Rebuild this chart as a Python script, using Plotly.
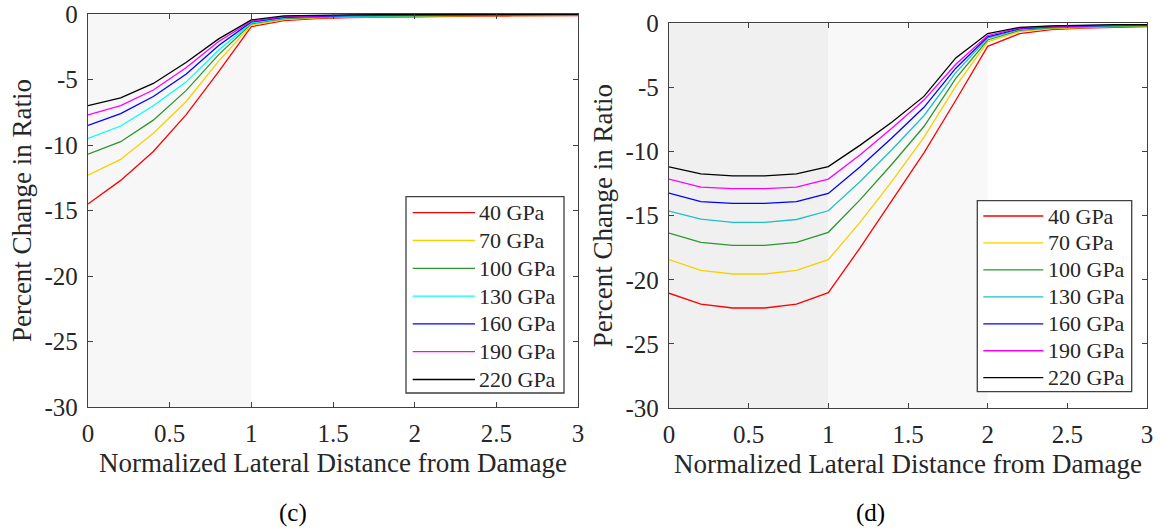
import plotly.graph_objects as go

W, H = 1161, 531

x_vals = [0.0, 0.2, 0.4, 0.6, 0.8, 1.0, 1.2, 1.4, 1.6, 1.8, 2.0, 2.2, 2.4, 2.6, 2.8, 3.0]
series_names = ["40 GPa", "70 GPa", "100 GPa", "130 GPa", "160 GPa", "190 GPa", "220 GPa"]
colors_c = ["#FF0000", "#F7D000", "#2E962E", "#00FFFF", "#0000FF", "#FF00FF", "#000000"]
colors_d = ["#FF0000", "#F7D000", "#2E962E", "#1FC1C1", "#0000FF", "#FF00FF", "#000000"]

# Panel (c)
c_40 = [-14.5, -12.7, -10.5, -7.7, -4.4, -0.97, -0.5, -0.35, -0.28, -0.24, -0.2, -0.18, -0.16, -0.15, -0.14, -0.13]
c_70 = [-12.3, -11.1, -9.1, -6.7, -3.6, -0.85, -0.42, -0.3, -0.24, -0.2, -0.17, -0.15, -0.13, -0.12, -0.11, -0.1]
c_100 = [-10.7, -9.75, -8.1, -5.85, -3.1, -0.75, -0.36, -0.25, -0.2, -0.16, -0.14, -0.12, -0.1, -0.09, -0.08, -0.08]
c_130 = [-9.5, -8.55, -7.0, -5.2, -2.75, -0.68, -0.3, -0.2, -0.16, -0.13, -0.11, -0.09, -0.08, -0.07, -0.06, -0.06]
c_160 = [-8.5, -7.6, -6.3, -4.6, -2.4, -0.6, -0.25, -0.16, -0.12, -0.1, -0.08, -0.07, -0.06, -0.05, -0.05, -0.04]
c_190 = [-7.7, -7.0, -5.8, -4.1, -2.1, -0.55, -0.2, -0.12, -0.09, -0.07, -0.06, -0.05, -0.04, -0.04, -0.03, -0.03]
c_220 = [-7.0, -6.4, -5.3, -3.7, -1.9, -0.45, -0.15, -0.08, -0.06, -0.05, -0.04, -0.03, -0.03, -0.02, -0.02, -0.02]

# Panel (d)
d_40 = [-21.05, -21.9, -22.2, -22.2, -21.9, -21.0, -17.5, -13.8, -10.1, -6.0, -1.8, -0.8, -0.5, -0.38, -0.3, -0.26]
d_70 = [-18.43, -19.27, -19.55, -19.55, -19.27, -18.43, -15.5, -12.3, -8.9, -4.9, -1.45, -0.65, -0.42, -0.32, -0.26, -0.22]
d_100 = [-16.36, -17.09, -17.32, -17.32, -17.09, -16.3, -13.75, -10.97, -8.05, -4.3, -1.3, -0.55, -0.36, -0.27, -0.22, -0.19]
d_130 = [-14.64, -15.27, -15.53, -15.53, -15.3, -14.62, -12.33, -9.84, -7.21, -3.85, -1.15, -0.48, -0.31, -0.23, -0.19, -0.16]
d_160 = [-13.24, -13.9, -14.05, -14.05, -13.9, -13.27, -11.19, -8.93, -6.55, -3.5, -1.05, -0.42, -0.27, -0.2, -0.16, -0.14]
d_190 = [-12.15, -12.77, -12.9, -12.9, -12.77, -12.15, -10.25, -8.17, -5.99, -3.19, -0.95, -0.37, -0.23, -0.17, -0.14, -0.12]
d_220 = [-11.2, -11.74, -11.9, -11.9, -11.74, -11.17, -9.5, -7.7, -5.7, -2.7, -0.8, -0.32, -0.2, -0.14, -0.11, -0.1]

series_c = [c_40, c_70, c_100, c_130, c_160, c_190, c_220]
series_d = [d_40, d_70, d_100, d_130, d_160, d_190, d_220]

x_tickvals = [0, 0.5, 1, 1.5, 2, 2.5, 3]
x_ticktext = ["0", "0.5", "1", "1.5", "2", "2.5", "3"]
y_tickvals = [-30, -25, -20, -15, -10, -5, 0]
y_ticktext = ["-30", "-25", "-20", "-15", "-10", "-5", "0"]

x_title = "Normalized Lateral Distance from Damage"
y_title = "Percent Change in Ratio"
captions = ["(c)", "(d)"]

FONT = "Liberation Serif"
TXT = "#262626"
AX = "#404040"


def px(xp):
    return xp / W


def py(yp):
    return 1 - yp / H


fig = go.Figure()

for vals, name, col in zip(series_c, series_names, colors_c):
    fig.add_trace(go.Scatter(x=x_vals, y=vals, mode="lines", name=name,
                             line=dict(color=col, width=1.3),
                             xaxis="x", yaxis="y", showlegend=False))
for vals, name, col in zip(series_d, series_names, colors_d):
    fig.add_trace(go.Scatter(x=x_vals, y=vals, mode="lines", name=name,
                             line=dict(color=col, width=1.3),
                             xaxis="x2", yaxis="y2", showlegend=False))

axis_common = dict(showgrid=False, zeroline=False, showline=True, mirror="ticks",
                   linecolor=AX, linewidth=1.3, ticks="inside", ticklen=5,
                   tickcolor=AX, tickwidth=1.2, automargin=False,
                   tickfont=dict(family=FONT, size=25, color=TXT))

xdom_c = [px(88), px(578)]
ydom_c = [py(407), py(14)]
xdom_d = [px(669), px(1147)]
ydom_d = [py(408), py(23.3)]

title_font = dict(family=FONT, size=27, color=TXT)

fig.update_layout(
    template="none",
    width=W, height=H, autosize=False,
    margin=dict(l=0, r=0, t=0, b=0),
    paper_bgcolor="white", plot_bgcolor="white",
    font=dict(family=FONT, color=TXT),
    xaxis=dict(domain=xdom_c, range=[0, 3], anchor="y",
               tickvals=x_tickvals, ticktext=x_ticktext, ticklabelstandoff=4,
               title=dict(text=x_title, font=title_font, standoff=6),
               **axis_common),
    yaxis=dict(domain=ydom_c, range=[-30, 0], anchor="x",
               tickvals=y_tickvals, ticktext=y_ticktext, ticklabelstandoff=4,
               title=dict(text=y_title, font=title_font, standoff=5),
               **axis_common),
    xaxis2=dict(domain=xdom_d, range=[0, 3], anchor="y2",
                tickvals=x_tickvals, ticktext=x_ticktext, ticklabelstandoff=4,
                title=dict(text=x_title, font=title_font, standoff=6),
                **axis_common),
    yaxis2=dict(domain=ydom_d, range=[-30, 0], anchor="x2",
                tickvals=y_tickvals, ticktext=y_ticktext, ticklabelstandoff=4,
                title=dict(text=y_title, font=title_font, standoff=5),
                **axis_common),
)

shapes = []
shapes.append(dict(type="rect", xref="x", yref="y domain", x0=0, x1=1, y0=0, y1=1,
                   fillcolor="#F7F7F7", line=dict(width=0), layer="below"))
shapes.append(dict(type="rect", xref="x2", yref="y2 domain", x0=0, x1=1, y0=0, y1=1,
                   fillcolor="#F0F0F0", line=dict(width=0), layer="below"))
shapes.append(dict(type="rect", xref="x2", yref="y2 domain", x0=1, x1=2, y0=0, y1=1,
                   fillcolor="#F8F8F8", line=dict(width=0), layer="below"))

annotations = []


def add_legend(box, line_x, text_x, rows, colors):
    bx0, by0, bx1, by1 = box
    shapes.append(dict(type="rect", xref="paper", yref="paper",
                       x0=px(bx0), x1=px(bx1), y0=py(by1), y1=py(by0),
                       fillcolor="white", line=dict(color=AX, width=1.3), layer="above"))
    for name, col, ry in zip(series_names, colors, rows):
        shapes.append(dict(type="line", xref="paper", yref="paper",
                           x0=px(line_x[0]), x1=px(line_x[1]), y0=py(ry), y1=py(ry),
                           line=dict(color=col, width=1.3), layer="above"))
        annotations.append(dict(xref="paper", yref="paper", x=px(text_x), y=py(ry),
                                xanchor="left", yanchor="middle", showarrow=False,
                                text=name, font=dict(family=FONT, size=22, color=TXT)))


rows_c = [212.7 + 27.8 * i for i in range(7)]
rows_d = [216 + 26.95 * i for i in range(7)]
add_legend((406, 196.7, 564, 393), (412.7, 475), 477, rows_c, colors_c)
add_legend((977.3, 200.7, 1131.7, 391.7), (983.3, 1043.3), 1046, rows_d, colors_d)

for cap, cx in zip(captions, [293, 870]):
    annotations.append(dict(xref="paper", yref="paper", x=px(cx), y=py(513),
                            xanchor="center", yanchor="middle", showarrow=False,
                            text=cap, font=dict(family=FONT, size=25, color="#000000")))

fig.update_layout(shapes=shapes, annotations=annotations)

fig.write_html("out.html", config={"displayModeBar": False},
               post_script="document.body.style.margin='0px';")
